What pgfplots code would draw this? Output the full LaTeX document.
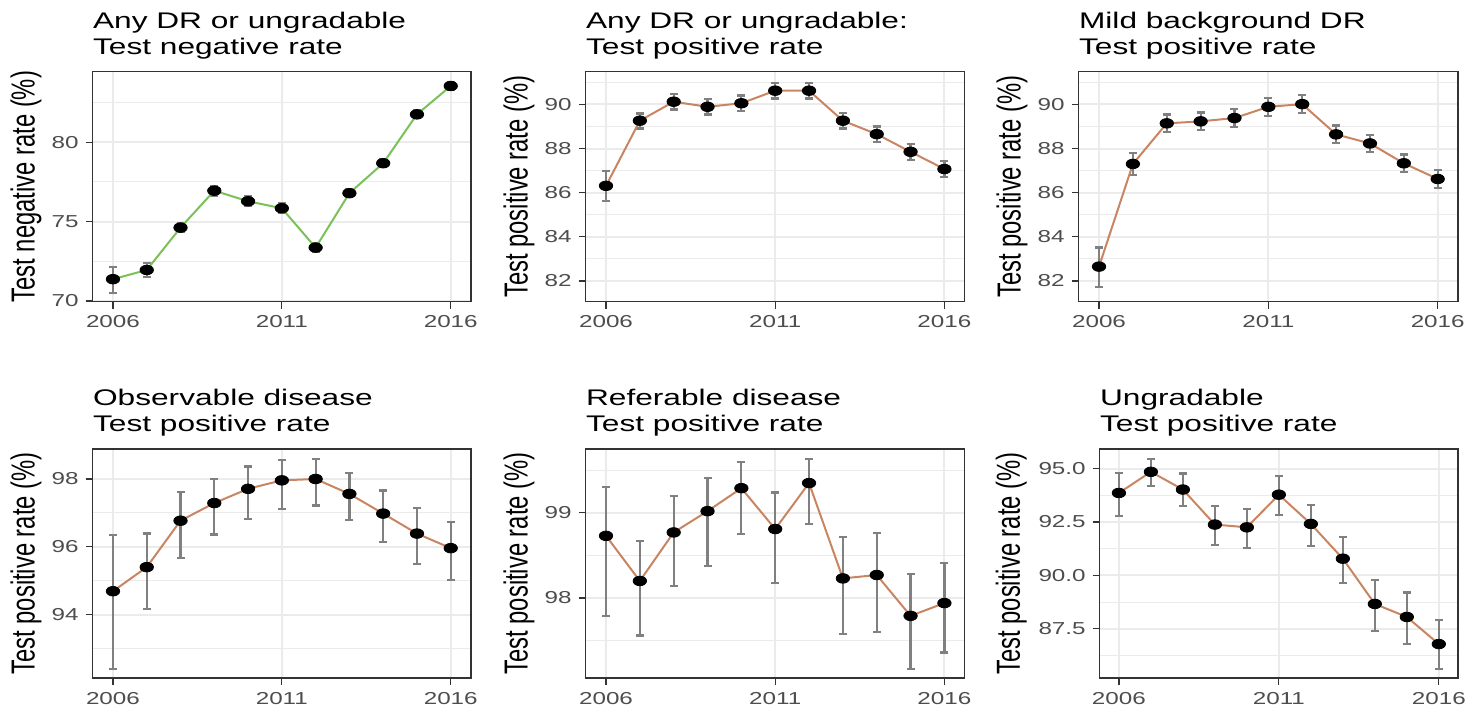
\documentclass[border=0pt]{standalone}
\usepackage{fontspec}
\setmainfont{Liberation Sans}
\usepackage{graphicx}
\usepackage{pgfplots}
\usepackage{pgfplotstable}
\pgfplotsset{compat=1.18}
\definecolor{gridc}{RGB}{235,235,235}
\definecolor{borderc}{RGB}{51,51,51}
\definecolor{tickc}{RGB}{77,77,77}
\definecolor{errc}{RGB}{128,128,128}
\definecolor{greenl}{RGB}{122,193,88}
\definecolor{brownl}{RGB}{201,133,98}
\newcommand\hs[1]{\scalebox{1.4}[1]{#1}}
\newcommand\vs[1]{\scalebox{1}[1.4]{#1}}

\pgfplotstableread{
x y lo hi
2006 71.37 70.52 72.16
2007 71.95 71.53 72.37
2008 74.62 74.32 74.92
2009 76.95 76.65 77.25
2010 76.28 75.98 76.58
2011 75.84 75.54 76.14
2012 73.36 73.06 73.66
2013 76.79 76.54 77.04
2014 78.68 78.43 78.93
2015 81.76 81.51 82.01
2016 83.55 83.30 83.80
}\tA
\pgfplotstableread{
x y lo hi
2006 86.31 85.62 86.98
2007 89.26 88.91 89.59
2008 90.12 89.77 90.47
2009 89.89 89.54 90.24
2010 90.05 89.70 90.40
2011 90.62 90.27 90.97
2012 90.62 90.27 90.97
2013 89.26 88.91 89.61
2014 88.65 88.30 89.00
2015 87.85 87.48 88.22
2016 87.07 86.72 87.45
}\tB
\pgfplotstableread{
x y lo hi
2006 82.65 81.71 83.52
2007 87.30 86.80 87.78
2008 89.14 88.74 89.54
2009 89.23 88.83 89.63
2010 89.38 88.98 89.78
2011 89.89 89.49 90.29
2012 90.01 89.61 90.41
2013 88.64 88.24 89.04
2014 88.23 87.83 88.63
2015 87.33 86.93 87.73
2016 86.62 86.22 87.02
}\tC
\pgfplotstableread{
x y lo hi
2006 94.69 92.40 96.34
2007 95.40 94.17 96.39
2008 96.77 95.67 97.62
2009 97.29 96.36 98.01
2010 97.71 96.83 98.37
2011 97.96 97.12 98.57
2012 98.00 97.22 98.59
2013 97.56 96.80 98.18
2014 96.98 96.14 97.66
2015 96.39 95.49 97.14
2016 95.96 95.03 96.73
}\tD
\pgfplotstableread{
x y lo hi
2006 98.73 97.79 99.30
2007 98.20 97.56 98.67
2008 98.77 98.14 99.20
2009 99.02 98.38 99.41
2010 99.29 98.75 99.60
2011 98.81 98.18 99.24
2012 99.35 98.87 99.63
2013 98.23 97.58 98.72
2014 98.27 97.60 98.76
2015 97.79 97.17 98.28
2016 97.94 97.36 98.41
}\tE
\pgfplotstableread{
x y lo hi
2006 93.86 92.77 94.80
2007 94.85 94.17 95.45
2008 94.02 93.24 94.77
2009 92.38 91.44 93.24
2010 92.25 91.28 93.12
2011 93.78 92.84 94.64
2012 92.41 91.39 93.31
2013 90.78 89.64 91.80
2014 88.66 87.41 89.80
2015 88.05 86.80 89.20
2016 86.78 85.62 87.89
}\tF

\pgfplotsset{
  panel/.style={
    scale only axis, anchor=south west,
    xmin=2005.4, xmax=2016.6,
    xtick={2006,2011,2016}, xticklabels={\hs{2006},\hs{2011},\hs{2016}},
    tick align=outside, tick pos=left,
    major tick length=3.5pt, minor tick length=0pt,
    xmajorgrids, ymajorgrids, yminorgrids,
    major grid style={line width=1pt, gridc},
    minor grid style={line width=0.5pt, gridc},
    axis line style={draw=borderc, line width=0.6pt},
    tick style={borderc, line width=0.6pt},
    /pgf/number format/assume math mode=true,
    ticklabel style={font=\fontsize{8.65}{10}\selectfont, text=tickc},
    title style={at={(rel axis cs:0,1)}, anchor=south west, align=left,
      font=\fontsize{11.3}{13}\selectfont, inner sep=0pt, yshift=0.3pt},
    every axis y label/.style={at={(rel axis cs:0,0.5)}, xshift=-33.4pt,
      rotate=90, anchor=center, font=\fontsize{11.9}{13}\selectfont},
    ylabel={\vs{Test positive rate (\%)}},
  },
  pts/.style={only marks, mark=*, black, mark size=2.4pt, mark options={xscale=1.4, fill=black, draw=black}, forget plot},
  errs/.style={mark=none, forget plot, errc, draw opacity=0,
    error bars/.cd, y dir=both, y explicit,
    error bar style={draw opacity=1, line width=1.1pt, errc},
    error mark options={draw opacity=1, errc, line width=1.1pt, mark size=2pt, rotate=90}},
}

\begin{document}
\begin{tikzpicture}
\useasboundingbox (0,0) rectangle (741.5pt,356.5pt);

% Panel 1
\begin{axis}[panel, at={(46.35pt,205.65pt)}, width=189.15pt, height=115pt,
  ymin=69.95, ymax=84.45, ytick={70,75,80}, yticklabels={\hs{70},\hs{75},\hs{80}},
  minor ytick={72.5,77.5,82.5},
  ylabel={\vs{Test negative rate (\%)}},
  title={\hs{Any DR or ungradable}\\\hs{Test negative rate}}]
\addplot[pts] table[x=x,y=y] {\tA};
\addplot[errs] table[x=x,y=y,y error plus expr=\thisrow{hi}-\thisrow{y},y error minus expr=\thisrow{y}-\thisrow{lo}] {\tA};
\addplot[greenl, line width=1pt, mark=none] table[x=x,y=y] {\tA};
\end{axis}

% Panel 2
\begin{axis}[panel, at={(292.85pt,205.65pt)}, width=189.5pt, height=115pt,
  ymin=81.06, ymax=91.48, ytick={82,84,86,88,90}, yticklabels={\hs{82},\hs{84},\hs{86},\hs{88},\hs{90}},
  minor ytick={81,83,85,87,89,91},
  title={\hs{Any DR or ungradable:}\\\hs{Test positive rate}}]
\addplot[pts] table[x=x,y=y] {\tB};
\addplot[errs] table[x=x,y=y,y error plus expr=\thisrow{hi}-\thisrow{y},y error minus expr=\thisrow{y}-\thisrow{lo}] {\tB};
\addplot[brownl, line width=1pt, mark=none] table[x=x,y=y] {\tB};
\end{axis}

% Panel 3
\begin{axis}[panel, at={(539.35pt,205.65pt)}, width=189.65pt, height=115pt,
  ymin=81.06, ymax=91.48, ytick={82,84,86,88,90}, yticklabels={\hs{82},\hs{84},\hs{86},\hs{88},\hs{90}},
  minor ytick={81,83,85,87,89,91},
  title={\hs{Mild background DR}\\\hs{Test positive rate}}]
\addplot[pts] table[x=x,y=y] {\tC};
\addplot[errs] table[x=x,y=y,y error plus expr=\thisrow{hi}-\thisrow{y},y error minus expr=\thisrow{y}-\thisrow{lo}] {\tC};
\addplot[brownl, line width=1pt, mark=none] table[x=x,y=y] {\tC};
\end{axis}

% Panel 4
\begin{axis}[panel, at={(46.35pt,17.5pt)}, width=189.15pt, height=114.5pt,
  ymin=92.13, ymax=98.885, ytick={94,96,98}, yticklabels={\hs{94},\hs{96},\hs{98}},
  minor ytick={93,95,97},
  title={\hs{Observable disease}\\\hs{Test positive rate}}]
\addplot[pts] table[x=x,y=y] {\tD};
\addplot[errs] table[x=x,y=y,y error plus expr=\thisrow{hi}-\thisrow{y},y error minus expr=\thisrow{y}-\thisrow{lo}] {\tD};
\addplot[brownl, line width=1pt, mark=none] table[x=x,y=y] {\tD};
\end{axis}

% Panel 5
\begin{axis}[panel, at={(292.85pt,17.5pt)}, width=189.5pt, height=114.5pt,
  ymin=97.06, ymax=99.75, ytick={98,99}, yticklabels={\hs{98},\hs{99}},
  minor ytick={97.5,98.5,99.5},
  title={\hs{Referable disease}\\\hs{Test positive rate}}]
\addplot[pts] table[x=x,y=y] {\tE};
\addplot[errs] table[x=x,y=y,y error plus expr=\thisrow{hi}-\thisrow{y},y error minus expr=\thisrow{y}-\thisrow{lo}] {\tE};
\addplot[brownl, line width=1pt, mark=none] table[x=x,y=y] {\tE};
\end{axis}

% Panel 6
\begin{axis}[panel, at={(549.85pt,17.5pt)}, width=179.15pt, height=114.5pt,
  ymin=85.19, ymax=95.92, ytick={87.5,90,92.5,95}, yticklabels={\hs{87.5},\hs{90.0},\hs{92.5},\hs{95.0}},
  minor ytick={86.25,88.75,91.25,93.75},
  every axis y label/.style={at={(rel axis cs:0,0.5)}, xshift=-44.2pt,
      rotate=90, anchor=center, font=\fontsize{11.9}{13}\selectfont},
  title={\hs{Ungradable}\\\hs{Test positive rate}}]
\addplot[pts] table[x=x,y=y] {\tF};
\addplot[errs] table[x=x,y=y,y error plus expr=\thisrow{hi}-\thisrow{y},y error minus expr=\thisrow{y}-\thisrow{lo}] {\tF};
\addplot[brownl, line width=1pt, mark=none] table[x=x,y=y] {\tF};
\end{axis}
\end{tikzpicture}
\end{document}
